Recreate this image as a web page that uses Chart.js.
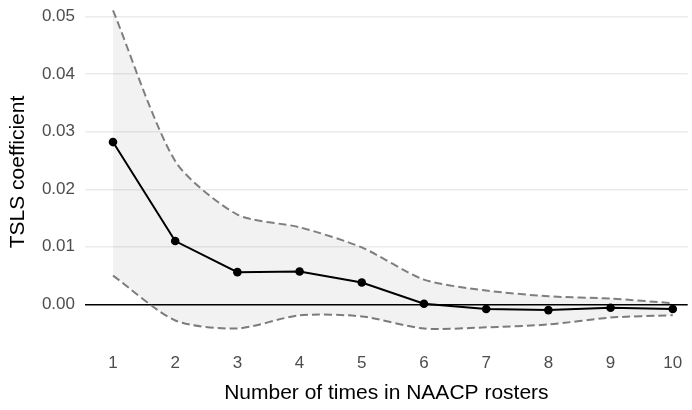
<!DOCTYPE html>
<html>
<head>
<meta charset="utf-8">
<script src="https://cdn.jsdelivr.net/npm/chart.js@4"></script>
<style>
  body { margin: 0; background: #fff; }
  #wrap { width: 692px; height: 410px; }
</style>
</head>
<body>
<div id="wrap"><canvas id="tslsChart" width="692" height="410"></canvas></div>
<script>
// data
var rosterCounts = [1, 2, 3, 4, 5, 6, 7, 8, 9, 10];
var coefficients = [0.0282, 0.0110, 0.0056, 0.0057, 0.0038, 0.0001, -0.0008, -0.0010, -0.0006, -0.0008];
var upperBound = [0.0511, 0.0249, 0.0156, 0.0134, 0.0099, 0.0043, 0.0024, 0.0014, 0.0010, 0.0002];
var lowerBound = [0.0050, -0.0028, -0.0042, -0.0019, -0.0021, -0.0042, -0.0040, -0.0035, -0.0023, -0.0019];
var yTicks = [0, 0.01, 0.02, 0.03, 0.04, 0.05];

function pts(ys) {
    return rosterCounts.map(function (x, i) { return { x: x, y: ys[i] }; });
}

var fontFamily = '"Liberation Sans", Arial, Helvetica, sans-serif';

var ctx = document.getElementById('tslsChart').getContext('2d');
var tslsChart = new Chart(ctx, {
    type: 'line',
    data: {
        datasets: [{
            label: 'Upper',
            data: pts(upperBound),
            borderColor: '#7f7f7f',
            borderWidth: 2,
            borderDash: [8, 4],
            backgroundColor: 'rgba(0, 0, 0, 0.05)',
            fill: '+1',
            pointRadius: 0,
            tension: 0.25
        }, {
            label: 'Lower',
            data: pts(lowerBound),
            borderColor: '#7f7f7f',
            borderWidth: 2,
            borderDash: [8, 4],
            fill: false,
            pointRadius: 0,
            tension: 0.25
        }, {
            label: 'TSLS coefficient',
            data: pts(coefficients),
            borderColor: '#000000',
            backgroundColor: '#000000',
            borderWidth: 2,
            pointRadius: 4.3,
            pointBorderWidth: 0,
            fill: false,
            tension: 0
        }]
    },
    options: {
        responsive: false,
        animation: false,
        layout: { padding: { top: 8, right: 0, bottom: 0, left: 0 } },
        plugins: {
            legend: { display: false },
            tooltip: { enabled: false }
        },
        scales: {
            x: {
                type: 'linear',
                min: 0.55,
                max: 10.24,
                afterFit: function (scale) {
                    scale.height = 74;
                    scale.paddingLeft = 0;
                    scale.paddingRight = 0;
                },
                grid: { display: false, drawTicks: false },
                border: { display: false },
                ticks: {
                    stepSize: 1,
                    includeBounds: false,
                    padding: 17,
                    color: '#4d4d4d',
                    font: { family: fontFamily, size: 17 },
                    callback: function (v) { return Number.isInteger(v) ? v : ''; }
                },
                title: {
                    display: true,
                    text: 'Number of times in NAACP rosters',
                    color: '#000000',
                    font: { family: fontFamily, size: 21 },
                    padding: { top: 6 }
                }
            },
            y: {
                type: 'linear',
                min: -0.0055,
                max: 0.0515,
                afterFit: function (scale) {
                    scale.width = 85;
                    scale.paddingTop = 0;
                    scale.paddingBottom = 0;
                },
                afterBuildTicks: function (scale) {
                    scale.ticks = yTicks.map(function (v) { return { value: v }; });
                },
                grid: {
                    drawTicks: false,
                    color: function (c) { return c.tick && c.tick.value === 0 ? '#000000' : '#ebebeb'; },
                    lineWidth: function (c) { return c.tick && c.tick.value === 0 ? 1.6 : 1.4; }
                },
                border: { display: false },
                ticks: {
                    padding: 10,
                    color: '#4d4d4d',
                    font: { family: fontFamily, size: 17 },
                    callback: function (v) { return v.toFixed(2); }
                },
                title: {
                    display: true,
                    text: 'TSLS coefficient',
                    color: '#000000',
                    font: { family: fontFamily, size: 21 },
                    padding: { top: 6, bottom: 0 }
                }
            }
        }
    }
});
</script>
</body>
</html>
